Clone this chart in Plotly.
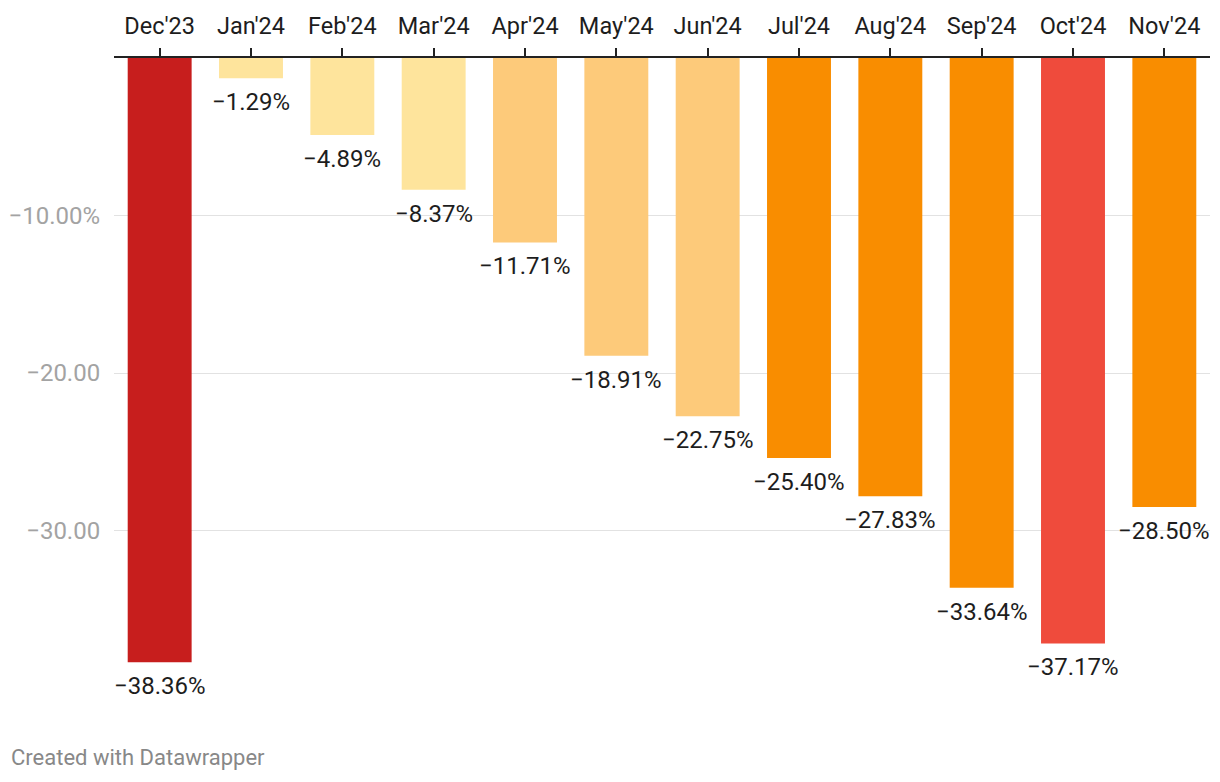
import plotly.graph_objects as go

months = ["Dec'23", "Jan'24", "Feb'24", "Mar'24", "Apr'24", "May'24",
          "Jun'24", "Jul'24", "Aug'24", "Sep'24", "Oct'24", "Nov'24"]
values = [-38.36, -1.29, -4.89, -8.37, -11.71, -18.91,
          -22.75, -25.40, -27.83, -33.64, -37.17, -28.50]
colors = ["#c71e1d", "#fee49c", "#fee49c", "#fee49c", "#fdca7a", "#fdca7a",
          "#fdca7a", "#f98d00", "#f98d00", "#f98d00", "#ef4b3c", "#f98d00"]
tick_vals = [-10, -20, -30]
tick_text = ["\u221210.00%", "\u221220.00", "\u221230.00"]

FONT = "Roboto"
W, H = 1220, 782
ML, MR, MT, MB = 114, 10, 58, 94
PW, PH = W - ML - MR, H - MT - MB

fig = go.Figure()
fig.add_trace(go.Bar(
    x=months, y=values, marker=dict(color=colors, line=dict(width=0)),
    hoverinfo="skip",
))

for m, v in zip(months, values):
    fig.add_annotation(
        x=m, y=v, xref="x", yref="y",
        text=f"\u2212{abs(v):.2f}%", showarrow=False,
        yanchor="top", yshift=-8,
        font=dict(family=FONT, size=24, color="#1d1d1d"),
    )

fig.add_annotation(
    x=-(ML - 9) / PW, y=-(772 - (MT + PH)) / PH, xref="paper", yref="paper",
    xanchor="left", yanchor="bottom",
    text="Created with Datawrapper", showarrow=False,
    font=dict(family=FONT, size=22, color="#888888"),
)

fig.update_layout(
    width=W, height=H,
    margin=dict(l=ML, r=MR, t=MT, b=MB),
    paper_bgcolor="white", plot_bgcolor="white",
    bargap=0.3,
    showlegend=False,
    font=dict(family=FONT),
    xaxis=dict(
        side="top", showgrid=False, ticks="outside", ticklen=8, tickwidth=2,
        tickcolor="#222222", showline=True, linecolor="#222222", linewidth=2,
        tickfont=dict(family=FONT, size=23.5, color="#1d1d1d"),
        ticklabelstandoff=5,
        range=[-0.5, 11.5], fixedrange=True,
    ),
    yaxis=dict(
        range=[-40, 0], tickvals=tick_vals, ticktext=tick_text,
        showgrid=True, gridcolor="#e2e2e2", gridwidth=1,
        zeroline=False, showline=False,
        ticks="outside", ticklen=8, tickcolor="rgba(0,0,0,0)",
        tickfont=dict(family=FONT, size=24, color="#a3a3a3"),
        fixedrange=True,
    ),
)

fig.write_html("out.html")
